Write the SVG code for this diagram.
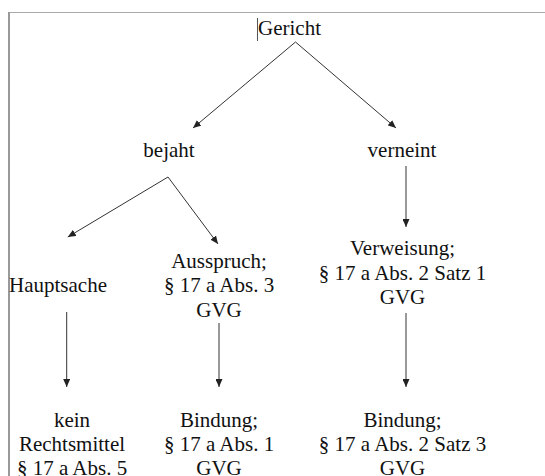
<svg xmlns="http://www.w3.org/2000/svg" width="545" height="476" viewBox="0 0 545 476">
<style>
  text { font-family: "Liberation Serif", "Times New Roman", serif; font-size: 21px; fill: #111; text-anchor: middle; }
  .conn line { stroke: #333; stroke-width: 1; marker-end: url(#arrow); }
</style>
<defs>
  <marker id="arrow" markerUnits="userSpaceOnUse" markerWidth="9" markerHeight="7" refX="8" refY="3.5" orient="auto">
    <path d="M0,0 L8,3.5 L0,7 z" fill="#222"/>
  </marker>
</defs>
<rect width="545" height="476" fill="#fff"/>
<g id="frame">
  <line x1="8" y1="12.5" x2="545" y2="12.5" stroke="#aaa" stroke-width="1"/>
  <line x1="9" y1="12" x2="9" y2="476" stroke="#999" stroke-width="2"/>
  <line x1="257.5" y1="18" x2="257.5" y2="41" stroke="#555" stroke-width="1"/>
</g>
<g class="conn" id="connectors">
  <line x1="295.5" y1="42" x2="193" y2="128"/>
  <line x1="295.5" y1="42" x2="396" y2="128"/>
  <line x1="168" y1="177" x2="67.8" y2="237"/>
  <line x1="168" y1="177" x2="218" y2="244"/>
  <line x1="406" y1="166" x2="406" y2="227"/>
  <line x1="66.7" y1="312" x2="66.7" y2="387"/>
  <line x1="219" y1="323" x2="219" y2="387"/>
  <line x1="406" y1="313" x2="406" y2="387"/>
</g>
<g id="gericht"><text x="289.5" y="35">Gericht</text></g>
<g id="bejaht"><text x="169" y="157">bejaht</text></g>
<g id="verneint"><text x="402" y="157">verneint</text></g>
<g id="hauptsache"><text x="58" y="292">Hauptsache</text></g>
<g id="ausspruch">
  <text x="219" y="267.5">Ausspruch;</text>
  <text x="219" y="292">§ 17 a Abs. 3</text>
  <text x="219" y="316.5">GVG</text>
</g>
<g id="verweisung">
  <text x="402.5" y="255">Verweisung;</text>
  <text x="402.5" y="279.5">§ 17 a Abs. 2 Satz 1</text>
  <text x="402.5" y="304">GVG</text>
</g>
<g id="kein-rechtsmittel">
  <text x="72" y="426.5">kein</text>
  <text x="72" y="450.5">Rechtsmittel</text>
  <text x="72" y="474.5">§ 17 a Abs. 5</text>
</g>
<g id="bindung1">
  <text x="219" y="426.5">Bindung;</text>
  <text x="219" y="450.5">§ 17 a Abs. 1</text>
  <text x="219" y="474.5">GVG</text>
</g>
<g id="bindung2">
  <text x="402.5" y="426.5">Bindung;</text>
  <text x="402.5" y="450.5">§ 17 a Abs. 2 Satz 3</text>
  <text x="402.5" y="474.5">GVG</text>
</g>
</svg>
